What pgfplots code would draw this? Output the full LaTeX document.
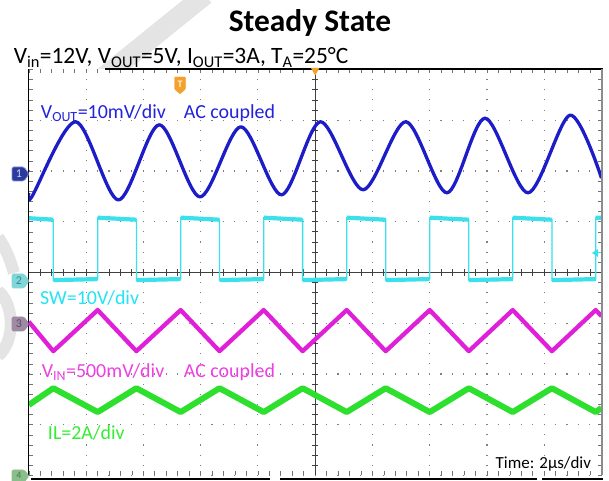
\documentclass[border=0pt]{standalone}
\usepackage{fontspec}
\setmainfont{Carlito}
\usepackage{pgfplots}
\pgfplotsset{compat=1.18}

% trace and label colours
\definecolor{voutc}{HTML}{1C1CC8}
\definecolor{voutl}{HTML}{2323DC}
\definecolor{swc}{HTML}{3CE0EA}
\definecolor{swl}{HTML}{22E4F4}
\definecolor{vinc}{HTML}{E020D8}
\definecolor{vinl}{HTML}{EE40E2}
\definecolor{ilc}{HTML}{2EE02E}
\definecolor{ill}{HTML}{33EE33}
\definecolor{trig}{HTML}{F2A22C}
\definecolor{wm}{HTML}{E4E4E4}

\begin{document}
\begin{tikzpicture}[x=1bp,y=1bp]
\useasboundingbox (0,0) rectangle (609,481);
\fill[white] (0,0) rectangle (609,481);

% faint background lettering
\draw[wm, line width=20] (205,486) -- (96,398);
\draw[wm, line width=12] (-2,244) .. controls (6,232) and (10,222) .. (14,208);
\draw[wm, line width=12] (-2,190) .. controls (14,178) and (16,140) .. (-2,125);

\begin{axis}[
  at={(28.8bp,5.5bp)}, anchor=south west,
  scale only axis, width=572.7bp, height=406bp,
  xmin=0, xmax=10, ymin=0, ymax=8,
  axis background/.style={fill=white},
  axis line style={draw=none},
  xtick={0,...,10}, ytick={0,...,8},
  minor x tick num=4, minor y tick num=4,
  xticklabels={}, yticklabels={},
  tick align=inside,
  major tick length=4bp, minor tick length=4bp,
  every tick/.style={black!55, line width=0.6bp},
  grid=major,
  major x grid style={black!50, line width=1.1bp, dash pattern=on 1.1bp off 9.05bp, dash phase=0.55bp},
  major y grid style={black!50, line width=1.1bp, dash pattern=on 1.1bp off 10.35bp, dash phase=0.55bp},
  unbounded coords=jump,
]
% centre cross with fine divisions
\draw[black!75, line width=1bp] (axis cs:5,0) -- (axis cs:5,8);
\draw[black!75, line width=1bp] (axis cs:0,4) -- (axis cs:10,4);
\pgfplotsinvokeforeach{1,...,49}{
  \draw[black!75, line width=0.8bp] (axis cs:#1*0.2,4) ++(0,-3.5bp) -- ++(0,7bp);
}
\pgfplotsinvokeforeach{1,...,39}{
  \draw[black!75, line width=0.8bp] (axis cs:5,#1*0.2) ++(-3bp,0) -- ++(6bp,0);
}

% VOUT, AC coupled, 10 mV/div
\addplot[voutc, line width=3.3bp, smooth, line join=round] coordinates {
  (0,5.57) (0.051,5.49) (0.819,6.97) (1.563,5.43) (2.277,6.91) (2.989,5.49)
  (3.702,6.87) (4.414,5.53) (5.092,6.97) (5.837,5.63) (6.583,6.97) (7.302,5.57)
  (7.966,7.04) (8.717,5.57) (9.450,7.10) (10,5.86)
};

% SW node, 10 V/div: edges
\addplot[swc, line width=1.3bp, sharp plot] coordinates {
  (0,5.07) (0.428,5.04) (0.428,3.85) (1.203,3.87) (1.203,5.08) (1.879,5.04)
  (1.879,3.85) (2.652,3.87) (2.652,5.08) (3.330,5.04) (3.330,3.85) (4.102,3.87)
  (4.102,5.08) (4.781,5.04) (4.781,3.85) (5.551,3.87) (5.551,5.08) (6.232,5.04)
  (6.232,3.85) (7.000,3.87) (7.000,5.08) (7.683,5.04) (7.683,3.85) (8.450,3.87)
  (8.450,5.08) (9.134,5.04) (9.134,3.85) (9.899,3.87) (9.899,5.08) (10,5.08)
};
% SW node: high and low plateaus
\addplot[swc, line width=4.2bp, line cap=butt] coordinates {
  (0,5.07) (0.428,5.04) (0.428,nan)
  (0.428,3.85) (1.203,3.87) (1.203,nan)
  (1.203,5.08) (1.879,5.04) (1.879,nan)
  (1.879,3.85) (2.652,3.87) (2.652,nan)
  (2.652,5.08) (3.330,5.04) (3.330,nan)
  (3.330,3.85) (4.102,3.87) (4.102,nan)
  (4.102,5.08) (4.781,5.04) (4.781,nan)
  (4.781,3.85) (5.551,3.87) (5.551,nan)
  (5.551,5.08) (6.232,5.04) (6.232,nan)
  (6.232,3.85) (7.000,3.87) (7.000,nan)
  (7.000,5.08) (7.683,5.04) (7.683,nan)
  (7.683,3.85) (8.450,3.87) (8.450,nan)
  (8.450,5.08) (9.134,5.04) (9.134,nan)
  (9.134,3.85) (9.899,3.87) (9.899,nan)
  (9.899,5.08) (10,5.08)
};

% VIN, AC coupled, 500 mV/div
\addplot[vinc, line width=4.3bp, sharp plot, line join=round] coordinates {
  (0,3.03) (0.428,2.45) (1.203,3.26) (1.879,2.45) (2.652,3.26) (3.330,2.45)
  (4.102,3.26) (4.781,2.45) (5.551,3.26) (6.232,2.45) (7.000,3.26) (7.683,2.45)
  (8.450,3.26) (9.134,2.45) (9.899,3.26) (10,3.14)
};

% inductor current, 2 A/div
\addplot[ilc, line width=6bp, sharp plot, line join=round] coordinates {
  (0,1.39) (0.428,1.72) (1.203,1.25) (1.879,1.72) (2.652,1.25) (3.330,1.72)
  (4.102,1.25) (4.781,1.72) (5.551,1.25) (6.232,1.72) (7.000,1.25) (7.683,1.72)
  (8.450,1.25) (9.134,1.72) (9.899,1.25) (10,1.33)
};
\end{axis}

% screen frame
\draw[black, line width=1bp] (28.8,5.5) -- (28.8,411.5);
\draw[black, line width=2bp] (105,411.5) -- (602.5,411.5);
\draw[black!45, line width=2bp] (601.5,5.5) -- (601.5,411.5);
\draw[black, line width=2bp] (31,1.5) -- (270,1.5);
\draw[black, line width=2bp] (280,1.5) -- (537,1.5);
\draw[black, line width=2bp] (542,1.5) -- (603,1.5);

% channel ground markers
\tikzset{chmark/.style={rounded corners=1.5bp, line width=0.8bp}}
\filldraw[chmark, fill={rgb,255:red,43;green,58;blue,155}, draw={rgb,255:red,120;green,140;blue,220}]
  (12,314) -- (24,314) -- (29,307) -- (24,300) -- (12,300) -- cycle;
\node[text={rgb,255:red,200;green,208;blue,245}, font=\fontsize{12}{12}\selectfont] at (19,307) {1};
\filldraw[chmark, fill={rgb,255:red,128;green,214;blue,216}, draw={rgb,255:red,128;green,214;blue,216}]
  (12,207) -- (24,207) -- (29,200) -- (24,193) -- (12,193) -- cycle;
\node[text={rgb,255:red,50;green,140;blue,148}, font=\fontsize{12}{12}\selectfont] at (19,200) {2};
\filldraw[chmark, fill={rgb,255:red,158;green,138;blue,163}, draw={rgb,255:red,158;green,138;blue,163}]
  (12,164) -- (24,164) -- (29,157) -- (24,150) -- (12,150) -- cycle;
\node[text={rgb,255:red,95;green,75;blue,100}, font=\fontsize{12}{12}\selectfont] at (19,157) {3};
\filldraw[chmark, fill={rgb,255:red,140;green,190;blue,140}, draw={rgb,255:red,140;green,190;blue,140}]
  (12,11) -- (24,11) -- (29,5) -- (24,-1) -- (12,-1) -- cycle;
\node[text={rgb,255:red,75;green,125;blue,75}, font=\fontsize{10}{10}\selectfont] at (19,5.5) {4};

% trigger position and level markers
\filldraw[trig, rounded corners=1bp] (174.5,404) -- (185.5,404) -- (185.5,392) -- (180,387) -- (174.5,392) -- cycle;
\node[text={rgb,255:red,255;green,240;blue,215}, font=\bfseries\fontsize{10}{10}\selectfont] at (180,396.5) {T};
\fill[trig] (311,413) -- (319.4,413) -- (315.2,405.5) -- cycle;
\fill[swc] (592,228) -- (598,232) -- (598,224) -- cycle;
\draw[swc, line width=1bp] (597,228) -- (601,228);

% titles
\node[anchor=base, font=\bfseries\fontsize{31.5}{36}\selectfont] at (310,449.5) {Steady State};
\node[anchor=base west, inner sep=0, font=\fontsize{23.5}{28}\selectfont]
  at (13.6,417.7) {V\textsubscript{in}=12V, V\textsubscript{OUT}=5V, I\textsubscript{OUT}=3A, T\textsubscript{A}=25°C};

% channel labels
\tikzset{lab/.style={anchor=base west, inner sep=0, font=\fontsize{20}{24}\selectfont}}
\node[lab, text=voutl] at (40.8,362.7) {V\textsubscript{OUT}=10mV/div};
\node[lab, text=voutl] at (183.7,362.7) {AC coupled};
\node[lab, text=swl] at (40,176) {SW=10V/div};
\node[lab, text=vinl] at (41.6,103.7) {V\textsubscript{IN}=500mV/div};
\node[lab, text=vinl] at (183.7,103.7) {AC coupled};
\node[lab, text=ill] at (47.8,41) {IL=2A/div};
\node[anchor=base west, inner sep=0, font=\fontsize{17}{20}\selectfont] at (495.5,12) {Time: 2µs/div};
\end{tikzpicture}
\end{document}
